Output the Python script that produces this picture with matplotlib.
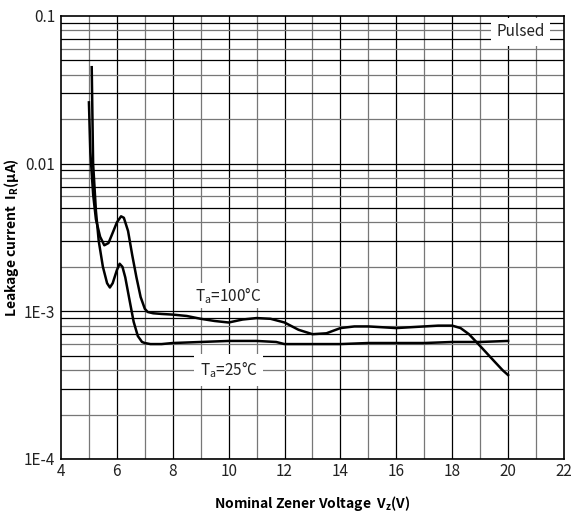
import matplotlib
matplotlib.use("Agg")
import matplotlib.pyplot as plt

plt.rcParams["font.family"] = ["Noto Sans CJK SC", "DejaVu Sans"]
plt.rcParams["mathtext.fontset"] = "custom"
plt.rcParams["mathtext.rm"] = "Noto Sans CJK SC"
plt.rcParams["mathtext.bf"] = "Noto Sans CJK SC:bold"

# Ta = 100 C curve
vz_100 = [5.0, 5.05, 5.15, 5.25, 5.4, 5.55, 5.7, 5.85, 6.0, 6.15, 6.25, 6.4, 6.55, 6.7, 6.85, 7.0,
          7.1, 7.3, 7.6, 8.0, 8.5, 9.0, 9.5, 10.0, 10.5, 11.0, 11.5, 12.0, 12.5, 13.0, 13.5,
          14.0, 14.5, 15.0, 15.5, 16.0, 16.5, 17.0, 17.5, 18.0, 18.3, 18.6, 18.9, 19.2, 19.5,
          19.8, 20.0]
ir_100 = [0.026, 0.012, 0.0062, 0.0042, 0.0032, 0.0028, 0.0029, 0.0034, 0.0040, 0.0044, 0.0043,
          0.0035, 0.0024, 0.0017, 0.00125, 0.00104, 0.00099, 0.00097, 0.00096, 0.00095, 0.00093,
          0.00089, 0.00086, 0.00084, 0.00088, 0.00090, 0.00089, 0.00084, 0.00075, 0.00070, 0.00071,
          0.00077, 0.00079, 0.00079, 0.00078, 0.00077, 0.00078, 0.00079, 0.00080, 0.00080, 0.00077,
          0.00070, 0.00061, 0.00053, 0.00046, 0.00040, 0.00037]

# Ta = 25 C curve
vz_25 = [5.1, 5.15, 5.25, 5.35, 5.5, 5.65, 5.75, 5.85, 6.0, 6.1, 6.2, 6.3, 6.45, 6.6, 6.75, 6.9,
         7.0, 7.2, 7.6, 8.0, 9.0, 10.0, 11.0, 11.7, 12.0, 13.0, 14.0, 15.0, 16.0, 17.0, 18.0,
         19.0, 20.0]
ir_25 = [0.045, 0.010, 0.0048, 0.0030, 0.0020, 0.00155, 0.00145, 0.00155, 0.0019, 0.0021, 0.0020,
         0.0017, 0.0012, 0.00085, 0.00068, 0.00062, 0.00061, 0.00060, 0.00060, 0.00061, 0.00062,
         0.00063, 0.00063, 0.00062, 0.00060, 0.00060, 0.00060, 0.00061, 0.00061, 0.00061, 0.00062,
         0.00062, 0.00063]

x_ticks = list(range(4, 23, 2))
y_ticks = [1e-4, 1e-3, 1e-2, 1e-1]
y_labels = ["1E-4", "1E-3", "0.01", "0.1"]

fig = plt.figure(figsize=(5.71, 5.16), dpi=100)
ax = fig.add_axes([0.1068, 0.1105, 0.8809, 0.8585])
ax.set_yscale("log")
ax.set_xlim(4, 22)
ax.set_ylim(1e-4, 0.1)

# grid
for v in range(5, 22):
    ax.axvline(v, color="black" if v % 2 == 0 else "#777777", lw=0.9, zorder=1)
for dec in [1e-4, 1e-3, 1e-2]:
    for m in range(2, 10):
        ax.axhline(dec * m, color="black" if m % 2 == 1 else "#777777", lw=0.9, zorder=1)
    ax.axhline(dec, color="black", lw=0.9, zorder=1)

ax.plot(vz_100, ir_100, color="black", lw=1.8, zorder=3)
ax.plot(vz_25, ir_25, color="black", lw=1.8, zorder=3)

ax.text(10.0, 0.00128, "T$_\\mathregular{a}$=100°C", ha="center", va="center", fontsize=11,
        color="#222222", bbox=dict(facecolor="white", edgecolor="none", pad=1.5), zorder=2)
ax.text(10.0, 0.0004, "T$_\\mathregular{a}$=25°C", ha="center", va="center", fontsize=11,
        color="#222222", bbox=dict(facecolor="white", edgecolor="none", pad=4), zorder=2)
ax.text(21.3, 0.078, "Pulsed", ha="right", va="center", fontsize=11, color="#222222",
        bbox=dict(facecolor="white", edgecolor="none", pad=4), zorder=2)

ax.set_xticks(x_ticks)
ax.set_yticks(y_ticks)
ax.set_yticklabels(y_labels)
ax.yaxis.set_minor_locator(matplotlib.ticker.NullLocator())
ax.tick_params(length=0, labelsize=11, pad=4, colors="#222222")
ax.tick_params(axis="x", pad=3)
for s in ax.spines.values():
    s.set_color("black")
    s.set_linewidth(1.2)
    s.set_zorder(4)

ax.set_xlabel("Nominal Zener Voltage  V$_\\mathbf{z}$(V)", fontsize=10, fontweight="bold",
              labelpad=10)
ax.set_ylabel("Leakage current  I$_\\mathbf{R}$(μA)", fontsize=10, fontweight="bold",
              labelpad=2)

fig.savefig("out.png", dpi=100, facecolor="white")
